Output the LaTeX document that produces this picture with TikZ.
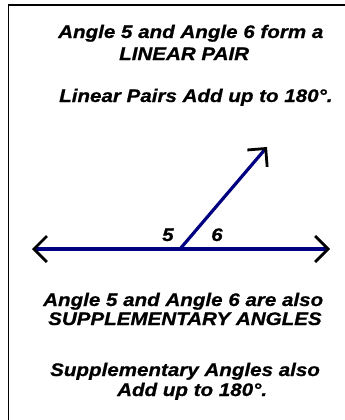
\documentclass[tikz,border=0pt]{standalone}
\usepackage{fontspec}
\newfontfamily\lab[FakeStretch=1.13,FakeBold=0.8]{Liberation Sans}
\usetikzlibrary{arrows.meta}
\definecolor{navyline}{RGB}{0,0,128}
\tikzset{
  txt/.style={anchor=base west, inner sep=0pt, font=\lab\fontsize{18.2}{21}\selectfont\bfseries\itshape},
  barb/.tip={Straight Barb[color=black,length=13pt,width=26pt,line width=2.8pt]},
  geomline/.style={draw=navyline, line width=3.2pt},
  frame/.style={draw=black, line width=1.4pt}
}
\begin{document}
\begin{tikzpicture}[x=1pt,y=-1pt]
\useasboundingbox (0,0) rectangle (345,420);
\clip (0,0) rectangle (345,420);
\draw[frame] (8.5,5) rectangle (360,440);

\node[txt] (t1) at (58,38) {Angle 5 and Angle 6 form a};
\node[txt] (t2) at (119,60) {LINEAR PAIR};
\node[txt] (t3) at (59,102) {Linear Pairs Add up to 180°.};

\coordinate (L) at (32,249);
\coordinate (R) at (330,249);
\coordinate (V) at (180,249);
\coordinate (T) at (267,147);
\draw[geomline, {barb}-{barb}] (L) -- (R);
\draw[geomline, -{barb}] (V) -- (T);

\node[txt] (n5) at (162,241) {5};
\node[txt] (n6) at (211,241) {6};

\node[txt] (b1) at (43,306) {Angle 5 and Angle 6 are also};
\node[txt] (b2) at (48,325) {SUPPLEMENTARY ANGLES};
\node[txt] (b3) at (50,376) {Supplementary Angles also};
\node[txt] (b4) at (117,396) {Add up to 180°.};
\end{tikzpicture}
\end{document}
